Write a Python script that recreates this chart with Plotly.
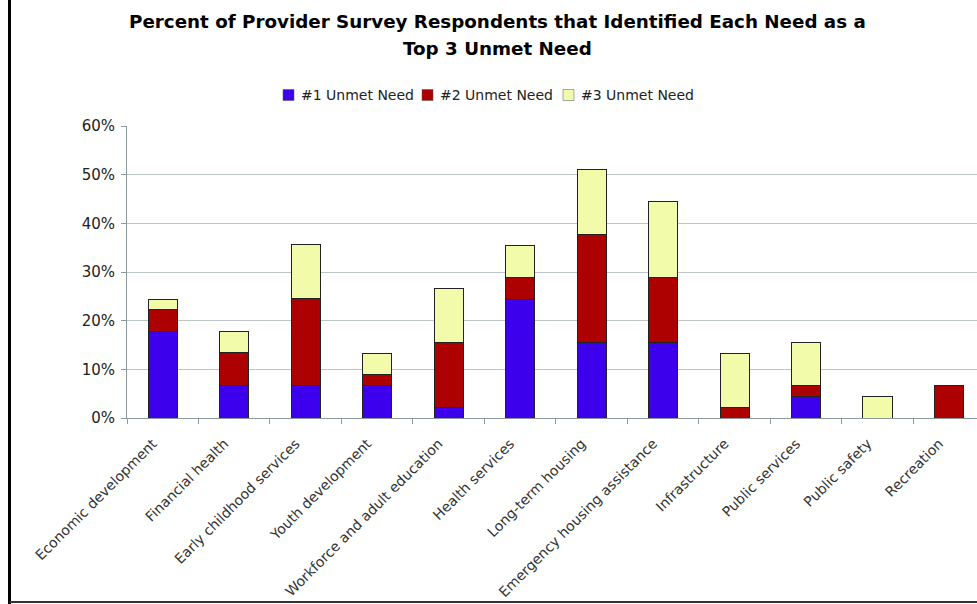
import plotly.graph_objects as go

categories = [
    "Economic development", "Financial health", "Early childhood services",
    "Youth development", "Workforce and adult education", "Health services",
    "Long-term housing", "Emergency housing assistance", "Infrastructure",
    "Public services", "Public safety", "Recreation",
]
need1 = [17.8, 6.7, 6.7, 6.7, 2.2, 24.4, 15.6, 15.6, 0.0, 4.4, 0.0, 0.0]
need2 = [4.4, 6.7, 17.8, 2.2, 13.3, 4.4, 22.2, 13.3, 2.2, 2.2, 0.0, 6.7]
need3 = [2.2, 4.4, 11.1, 4.4, 11.1, 6.7, 13.3, 15.6, 11.1, 8.9, 4.4, 0.0]
series_names = ["#1 Unmet Need", "#2 Unmet Need", "#3 Unmet Need"]
series_colors = ["#3D00EC", "#AD0000", "#F2FBAA"]
y_ticks = [0, 10, 20, 30, 40, 50, 60]
y_tick_labels = ["0%", "10%", "20%", "30%", "40%", "50%", "60%"]
title_lines = [
    "Percent of Provider Survey Respondents that Identified Each Need as a",
    "Top 3 Unmet Need",
]

FONT = "DejaVu Sans"
L, T, B, W, H = 127, 126, 186, 977, 604
PW, PH = W - L, H - T - B


def px(x):
    return (x - L) / PW


def py(y):
    return (H - B - y) / PH


fig = go.Figure()
for name, vals, col in zip(series_names, [need1, need2, need3], series_colors):
    fig.add_trace(go.Bar(
        x=categories, y=vals, name=name, showlegend=False,
        marker=dict(color=col, line=dict(color="#222222", width=1)),
    ))

fig.update_layout(
    width=W, height=H,
    barmode="stack", bargap=0.59,
    paper_bgcolor="white", plot_bgcolor="white",
    margin=dict(l=L, r=0, t=T, b=B),
    font=dict(family=FONT, size=13, color="#222222"),
    showlegend=False,
)

# chart title, one annotation per line
for line_text, ly in zip(title_lines, [22, 48]):
    fig.add_annotation(
        xref="paper", yref="paper", x=px(497), y=py(ly),
        xanchor="center", yanchor="middle", showarrow=False,
        text="<b>" + line_text + "</b>",
        font=dict(family=FONT, size=18.3, color="#000000"),
    )

# legend row: coloured square followed by the series name
legend_x = [283, 422, 563]
for lx, name, col in zip(legend_x, series_names, series_colors):
    fig.add_shape(type="rect", xref="paper", yref="paper",
                  x0=px(lx), x1=px(lx + 11), y0=py(100.5), y1=py(89.5),
                  line=dict(color="#555555", width=0.5), fillcolor=col)
    fig.add_annotation(xref="paper", yref="paper", x=px(lx + 16), y=py(95),
                       xanchor="left", yanchor="middle", showarrow=False,
                       text=name, font=dict(family=FONT, size=14, color="#222222"))

fig.update_xaxes(
    type="category", range=[-0.5, 11.39],
    tickangle=-45, tickfont=dict(family=FONT, size=14, color="#333333"),
    ticks="outside", ticklen=5, tickcolor="#8a9a9a", tickson="boundaries",
    ticklabelstandoff=11, ticklabelshift=-10,
    showline=True, linecolor="#8a9a9a", linewidth=1, showgrid=False,
)
fig.update_yaxes(
    range=[0, 60], tickvals=y_ticks, ticktext=y_tick_labels,
    tickfont=dict(family=FONT, size=15, color="#222222"),
    ticks="outside", ticklen=5, tickcolor="#8a9a9a",
    ticklabelstandoff=3,
    showline=True, linecolor="#8a9a9a", linewidth=1,
    showgrid=True, gridcolor="#bcc6c6", gridwidth=1, zeroline=False,
)

# page frame: heavy left rule and thin bottom rule
fig.add_shape(type="line", xref="paper", yref="paper",
              x0=px(9.5), x1=px(9.5), y0=py(H), y1=py(0),
              line=dict(color="#000000", width=3))
fig.add_shape(type="line", xref="paper", yref="paper",
              x0=px(9.5), x1=1.0, y0=py(602), y1=py(602),
              line=dict(color="#333333", width=2))

fig.write_html("out.html")
